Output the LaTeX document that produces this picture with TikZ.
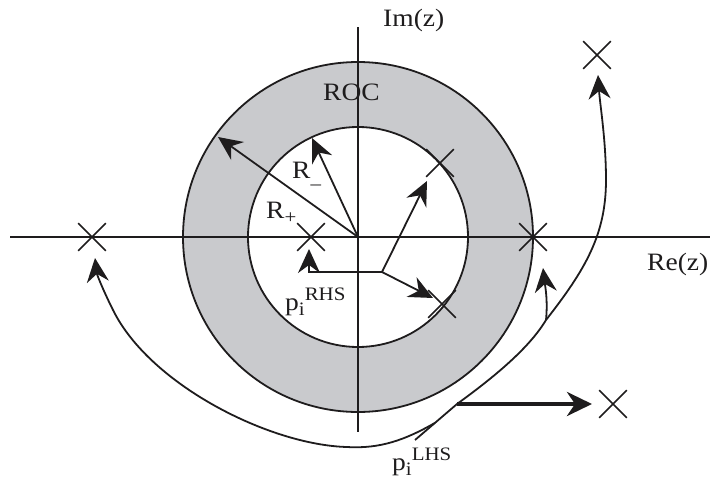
\documentclass[tikz,border=0pt]{standalone}
\usepackage{fontspec}
\setmainfont{Liberation Serif}[FakeStretch=1.1]
\usetikzlibrary{arrows.meta,shapes.misc,calc}
\definecolor{rocgray}{RGB}{201,202,205}
\definecolor{ink}{RGB}{30,28,29}
\newcommand{\mysb}[1]{\raisebox{-5pt}{\fontsize{19}{20}\selectfont #1}}
\newcommand{\mysp}[1]{\raisebox{10pt}{\fontsize{19}{20}\selectfont #1}}
\tikzset{
  ln/.style={line width=1.8pt, draw=ink},
  arr/.style={ln, -{Stealth[length=24pt,width=22pt,inset=8pt]}},
  thickarr/.style={line width=4pt, draw=ink, -{Stealth[length=25pt,width=24pt,inset=8pt]}},
  pole/.style={draw=ink, cross out, line width=1.7pt, minimum size=26pt, inner sep=0pt},
  lbl/.style={font=\fontsize{25}{28}\selectfont, inner sep=0pt, text=ink, anchor=base west},
}
\begin{document}
\begin{tikzpicture}[x=1pt,y=-1pt]
\useasboundingbox (0,0) rectangle (710,479);
\coordinate (O) at (358,237);
% ROC annulus
\fill[rocgray] (O) circle (175);
\fill[white] (O) circle (110);
\draw[ln] (O) circle (175);
\draw[ln] (O) circle (110);
% axes
\coordinate (xl) at (10,237);
\coordinate (xr) at (710,237);
\coordinate (yt) at (358,27);
\coordinate (yb) at (358,432);
\draw[ln] (xl) -- (xr);
\draw[ln] (yt) -- (yb);
% poles
\node[pole] (p1) at (92,237) {};
\node[pole] (p2) at (311,237) {};
\node[pole] (p3) at (533,237) {};
\node[pole] (p4) at (440,163) {};
\node[pole] (p5) at (442,304) {};
\node[pole] (p6) at (597,55) {};
\node[pole] (p7) at (613,404) {};
% radii
\coordinate (tipRm) at (312,138);
\coordinate (tipRp) at (218,137);
\draw[arr] (O) -- (tipRm);
\draw[arr] (O) -- (tipRp);
% RHS vectors
\coordinate (bend) at (382,272);
\coordinate (tipA) at (309,249);
\coordinate (tipB) at (427,181);
\coordinate (tipC) at (433,298);
\draw[arr] (bend) -| (tipA);
\draw[arr] (bend) -- (tipB);
\draw[arr] (bend) -- (tipC);
% LHS paths
\coordinate (L0) at (415,440);
\coordinate (P) at (457,404);
\coordinate (J1) at ($(L0)!0.476!(P)$);
\coordinate (B) at (546,320);
\coordinate (tipTop) at (598,75);
\coordinate (tipRC) at (543,268);
\coordinate (tipL) at (95,258);
\coordinate (thickEnd) at (592,404);
\draw[ln] (L0) -- (P) .. controls (490,380) and (528,350) .. (B);
\draw[arr] (B) .. controls (585,270) and (606,235) .. (606,180)
              .. controls (606,140) and (600,105) .. (tipTop);
\draw[arr] (B) .. controls (548,300) and (545,285) .. (tipRC);
\draw[arr] (J1) .. controls (405,440) and (380,449) .. (347,447)
               .. controls (270,445) and (150,385) .. (113,310)
               .. controls (104,292) and (97,275) .. (tipL);
\draw[thickarr] (P) -- (thickEnd);
% labels
\node[lbl] (im) at (383,27) {Im(z)};
\node[lbl] (roc) at (323,100) {ROC};
\node[lbl] (re) at (647,270) {Re(z)};
\node[lbl] (rm) at (292,178) {R\mysb{\_}};
\node[lbl] (rp) at (266,218) {R\mysb{+}};
\node[lbl] (rhs) at (285,310) {p\mysb{i}\mysp{RHS}};
\node[lbl] (lhs) at (392,470) {p\mysb{i}\mysp{LHS}};
\end{tikzpicture}
\end{document}
